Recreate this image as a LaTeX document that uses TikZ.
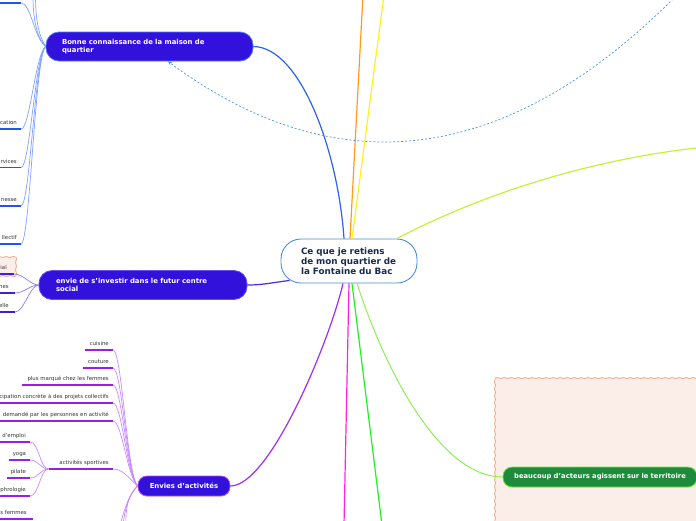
\documentclass[tikz,border=0pt]{standalone}
\usepackage{fontspec}
\setmainfont{DejaVu Sans}
\usetikzlibrary{decorations.pathmorphing,arrows.meta}
\definecolor{mainfill}{HTML}{3311DD}
\definecolor{bonneborder}{HTML}{4D7BF5}
\definecolor{envieborder}{HTML}{6A4CF0}
\definecolor{enviesborder}{HTML}{B050F5}
\definecolor{cborder}{HTML}{4A90D0}
\definecolor{cnavy}{HTML}{1B2A4E}
\definecolor{gfill}{HTML}{1E8A3C}
\definecolor{gborder}{HTML}{5EF030}
\definecolor{peachfill}{HTML}{FBEEE9}
\definecolor{peachborder}{HTML}{F2A584}
\definecolor{lBonne}{HTML}{2A62F2}
\definecolor{lEnvie}{HTML}{4A2AE0}
\definecolor{lEnvies}{HTML}{A12CF2}
\definecolor{lOrange}{HTML}{FF9A1E}
\definecolor{lYellow}{HTML}{FFF020}
\definecolor{lYGreen}{HTML}{C4F040}
\definecolor{lMagenta}{HTML}{FF22E6}
\definecolor{lGreen}{HTML}{22F022}
\definecolor{lLGreen}{HTML}{86F040}
\definecolor{lDash}{HTML}{4A94E6}
\definecolor{cbLight}{HTML}{7FA2FF}
\definecolor{cbUl}{HTML}{1F55E8}
\definecolor{ceLight}{HTML}{8A7CF2}
\definecolor{ceUl}{HTML}{3A22D8}
\definecolor{caLight}{HTML}{C98AFF}
\definecolor{caUl}{HTML}{9A1EE8}
\definecolor{txtgray}{HTML}{333333}
\begin{document}
\begin{tikzpicture}[x=1pt,y=-1pt,
  central/.style={draw=cborder, line width=0.9pt, fill=white, rounded corners=20pt,
    minimum height=44pt, text width=96pt, inner xsep=20pt, align=left,
    font=\fontsize{8.8}{10.2}\selectfont\bfseries, text=cnavy},
  mainnode/.style={fill=mainfill, line width=0.8pt, rounded corners=13pt,
    minimum height=29pt, align=left, text=white,
    font=\fontsize{6.9}{8.2}\selectfont\bfseries},
  leaf/.style={font=\fontsize{5.4}{6.2}\selectfont, text=txtgray, inner xsep=4pt,
    inner ysep=3pt, text depth=1pt, align=right, anchor=south east},
  ulb/.style={draw=cbUl, line width=1.3pt},
  ule/.style={draw=ceUl, line width=1.3pt},
  ula/.style={draw=caUl, line width=1.3pt},
  cb/.style={draw=cbLight, line width=0.7pt},
  ce/.style={draw=ceLight, line width=0.7pt},
  ca/.style={draw=caLight, line width=0.7pt},
  conn/.style={line width=1.2pt},
  wavyfill/.style={fill=peachfill},
  wavyedge/.style={draw=peachborder, line width=0.8pt,
    decorate, decoration={snake, amplitude=0.5pt, segment length=7pt}}
]
\useasboundingbox (0,0) rectangle (696,520);
\clip (0,0) rectangle (696,520);

% background boundaries
\fill[wavyfill] (495,378) rectangle (730,545);
\draw[wavyedge] (495,545) -- (495,378);
\draw[wavyedge] (495,378) -- (730,378);
\fill[wavyfill] (-10,257) rectangle (16,276);
\draw[wavyedge] (-10,257) -- (16,257);
\draw[wavyedge] (16,257) -- (16,276);
\draw[wavyedge] (16,276) -- (-10,276);

% nodes
\node[central] (c) at (349,261) {\mbox{Ce que je retiens}\\\mbox{de mon quartier de}\\\mbox{la Fontaine du Bac}};
\node[mainnode, draw=bonneborder, text width=175pt, inner xsep=16pt] (bonne) at (149.5,46.5)
  {Bonne connaissance de la maison de\\quartier};
\node[mainnode, draw=envieborder, text width=174pt, inner xsep=17pt] (envie) at (143,285)
  {envie de s'investir dans le futur centre\\social};
\node[mainnode, draw=enviesborder, minimum height=20pt, rounded corners=9pt, align=center,
  text width=76pt, inner xsep=8pt] (envies) at (184,486) {Envies d'activités};
\node[mainnode, fill=gfill, draw=gborder, minimum height=20pt, rounded corners=9pt, align=center,
  text width=178pt, inner xsep=8pt, font=\fontsize{6.8}{8}\selectfont\bfseries] (green) at (600,477)
  {beaucoup d'acteurs agissent sur le territoire};

% free ends
\coordinate (oEnd) at (363,-5);
\coordinate (yEnd) at (384,-5);
\coordinate (ygEnd) at (705,147);
\coordinate (mEnd) at (344,525);
\coordinate (gEnd) at (382,525);
\coordinate (dStart) at (676,-4);

% main connectors
\draw[conn, lOrange] ([xshift=1pt]c.north) -- (oEnd);
\draw[conn, lYellow] ([xshift=3pt]c.north) -- (yEnd);
\draw[conn, lBonne] ([xshift=-5pt]c.north) .. controls (338,150) and (300,47) .. (bonne.east);
\draw[conn, lYGreen] ([xshift=48pt]c.north) .. controls (470,200) and (580,160) .. (ygEnd);
\draw[conn, lEnvie] ([xshift=9pt,yshift=3pt]c.south west) .. controls (270,283) and (262,285) .. (envie.east);
\draw[conn, lEnvies] ([xshift=-6pt]c.south) .. controls (330,340) and (270,486) .. (envies.east);
\draw[conn, lMagenta] (c.south) -- (mEnd);
\draw[conn, lGreen] ([xshift=3pt]c.south) -- (gEnd);
\draw[conn, lLGreen, line width=0.9pt] ([xshift=8pt]c.south) .. controls (385,370) and (440,477) .. (green.west);
\draw[lDash, line width=0.7pt, dash pattern=on 2pt off 2pt, -{Stealth[length=4pt,width=3.5pt]}]
  (dStart) .. controls (505,168) and (335,185) .. ([xshift=18.5pt]bonne.south);

% Bonne children
\coordinate (b0s) at (-5,3);
\coordinate (b0e) at (21,3);
\coordinate (bu1) at (33,-5);
\coordinate (bu2) at (35.5,-5);
\draw[ulb] (b0s) -- (b0e);
\node[leaf, text width=60pt] (b1) at (21,129) {cation};
\node[leaf, text width=60pt] (b2) at (21,167.5) {rvices};
\node[leaf, text width=60pt] (b3) at (21,206) {nesse};
\node[leaf, text width=60pt] (b4) at (21,244) {llectif};
\foreach \n in {b1,b2,b3,b4} \draw[ulb] (\n.south west) -- (\n.south east);
\draw[cb] (bonne.west) .. controls (34,38) and (31,3) .. (b0e);
\draw[cb] (bonne.west) .. controls (36,36) and (33,18) .. (bu1);
\draw[cb] (bonne.west) .. controls (38,34) and (35.5,18) .. (bu2);
\foreach \n in {b1,b2,b3,b4} \draw[cb] (bonne.west) .. controls (35,55) and (30,0 |- \n.south east) .. (\n.south east);

% envie children
\node[leaf, text width=40pt, inner xsep=7pt] (e1) at (14,274) {ial};
\node[leaf, text width=40pt, inner xsep=6pt] (e2) at (15,293) {nes};
\node[leaf, text width=40pt, inner xsep=6pt] (e3) at (15,312) {elle};
\foreach \n in {e1,e2,e3} {
  \draw[ule] (\n.south west) -- (\n.south east);
  \draw[ce] (envie.west) .. controls (30,285) and (24,0 |- \n.south east) .. (\n.south east);
}

% Envies children
\node[leaf, text width=20pt] (a1) at (113,350) {cuisine};
\node[leaf, text width=22pt] (a2) at (113,368) {couture};
\node[leaf, text width=83pt] (a3) at (113,385) {plus marqué chez les femmes};
\node[leaf, text width=150pt] (a4) at (113,403) {cipation concrète à des projets collectifs};
\node[leaf, text width=150pt] (a5) at (113,421) {demandé par les personnes en activité};
\node[leaf, text width=56pt] (a6) at (113,469) {activités sportives};
\foreach \n in {a1,a2,a3,a4,a5,a6} {
  \draw[ula] (\n.south west) -- (\n.south east);
  \draw[ca] (envies.west) .. controls (127,476) and (122,0 |- \n.south east) .. (\n.south east);
}
\coordinate (dn1) at (120,525);
\coordinate (dn2) at (123,525);
\coordinate (dn3) at (126,525);
\foreach \n in {dn1,dn2,dn3} \draw[ca] (envies.west) .. controls (129,494) and (125,508) .. (\n);

% sportives children
\node[leaf, text width=60pt] (s1) at (30,442) {d'emploi};
\node[leaf, text width=13pt] (s2) at (30,460) {yoga};
\node[leaf, text width=15pt] (s3) at (30,478) {pilate};
\node[leaf, text width=60pt] (s4) at (30,496) {phrologie};
\foreach \n in {s1,s2,s3,s4} {
  \draw[ula] (\n.south west) -- (\n.south east);
  \draw[ca] (a6.south west) .. controls (40,469) and (39,0 |- \n.south east) .. (\n.south east);
}
\node[leaf, text width=60pt, inner xsep=6pt] (f1) at (33,519) {s femmes};
\draw[ula] (f1.south west) -- (f1.south east);
\end{tikzpicture}
\end{document}
